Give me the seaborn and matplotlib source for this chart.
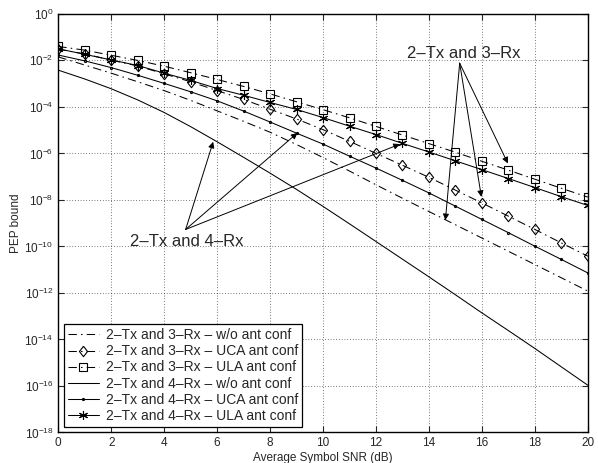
import matplotlib
matplotlib.use("Agg")
import matplotlib.pyplot as plt
import seaborn as sns

# average symbol SNR in dB
snr_db = list(range(0, 21))

# log10 of the PEP bound
pep_3rx_wo = [-1.85, -2.20, -2.55, -2.92, -3.30, -3.72, -4.17, -4.62, -5.09, -5.62, -6.18,
              -6.76, -7.35, -7.93, -8.50, -9.07, -9.64, -10.21, -10.78, -11.35, -11.92]
pep_3rx_uca = [-1.52, -1.72, -1.99, -2.24, -2.58, -2.92, -3.30, -3.68, -4.10, -4.52, -4.98,
               -5.48, -6.00, -6.51, -7.03, -7.58, -8.13, -8.70, -9.27, -9.85, -10.42]
pep_3rx_ula = [-1.40, -1.56, -1.78, -2.00, -2.25, -2.53, -2.82, -3.12, -3.44, -3.78, -4.12,
               -4.47, -4.84, -5.21, -5.58, -5.95, -6.34, -6.72, -7.11, -7.50, -7.88]
pep_4rx_wo = [-2.42, -2.80, -3.22, -3.70, -4.24, -4.85, -5.50, -6.17, -6.85, -7.55, -8.28,
              -9.03, -9.79, -10.55, -11.31, -12.08, -12.86, -13.62, -14.39, -15.18, -15.97]
pep_4rx_uca = [-1.77, -2.02, -2.31, -2.64, -2.99, -3.35, -3.74, -4.18, -4.65, -5.13, -5.60,
               -6.12, -6.63, -7.16, -7.70, -8.27, -8.84, -9.41, -9.99, -10.56, -11.14]
pep_4rx_ula = [-1.50, -1.74, -1.98, -2.22, -2.55, -2.86, -3.21, -3.50, -3.81, -4.11, -4.46,
               -4.83, -5.19, -5.57, -5.94, -6.32, -6.70, -7.08, -7.47, -7.86, -8.24]

series_labels = ['2–Tx and 3–Rx – w/o ant conf', '2–Tx and 3–Rx – UCA ant conf',
                 '2–Tx and 3–Rx – ULA ant conf', '2–Tx and 4–Rx – w/o ant conf',
                 '2–Tx and 4–Rx – UCA ant conf', '2–Tx and 4–Rx – ULA ant conf']

sns.set_style('ticks')
plt.rcParams['font.family'] = ['Liberation Sans', 'DejaVu Sans']

fig = plt.figure(figsize=(5.98, 4.63), dpi=100)
ax = fig.add_axes([0.0975, 0.066, 0.8855, 0.904])

dashdot = (0, (8, 4, 1.5, 4))
diamond = [(0, 1), (0.78, 0), (0, -1), (-0.78, 0), (0, 1)]
styles = [
    dict(linestyle=dashdot, marker=None),
    dict(linestyle=dashdot, marker=diamond, markersize=7.5),
    dict(linestyle=dashdot, marker='s', markersize=5.5),
    dict(linestyle='-', marker=None),
    dict(linestyle='-', marker='.', markersize=3),
    dict(linestyle='-', marker=(6, 2, 0), markersize=6.5),
]
all_series = [pep_3rx_wo, pep_3rx_uca, pep_3rx_ula, pep_4rx_wo, pep_4rx_uca, pep_4rx_ula]

for vals, label, st in zip(all_series, series_labels, styles):
    pep = [10.0 ** v for v in vals]
    sns.lineplot(x=snr_db, y=pep, ax=ax, color='k', lw=0.75, label=label,
                 markerfacecolor='none', markeredgecolor='k', markeredgewidth=0.8, **st)

ax.set_yscale('log')
ax.set_xlim(0, 20)
ax.set_ylim(1e-18, 1)
ax.set_xticks(range(0, 21, 2))
ax.set_yticks([10.0 ** -k for k in range(0, 19, 2)])
ax.minorticks_off()
ax.grid(True, color='k', linestyle=(0, (1, 3)), linewidth=0.5)
ax.tick_params(direction='in', top=True, right=True, length=4, width=0.8, labelsize=8.5)
for sp in ax.spines.values():
    sp.set_linewidth(1.0)
    sp.set_color('k')

ax.set_xlabel('Average Symbol SNR (dB)', fontsize=8.5, labelpad=2)
ax.set_ylabel('PEP bound', fontsize=8.5, labelpad=2)

arrow = dict(arrowstyle='-|>', color='k', lw=0.7, mutation_scale=9, shrinkA=0, shrinkB=0)

# 3-Rx annotation
ax.text(15.33, 10 ** -1.70, '2–Tx and 3–Rx', fontsize=12, ha='center', va='center')
for ex, ey in [(14.62, -8.87), (15.98, -7.87), (16.98, -6.43)]:
    ax.annotate('', xy=(ex, 10 ** ey), xytext=(15.16, 10 ** -2.12), arrowprops=arrow)

# 4-Rx annotation
ax.text(4.87, 10 ** -9.78, '2–Tx and 4–Rx', fontsize=12, ha='center', va='center')
for ex, ey in [(5.85, -5.50), (9.03, -5.12), (12.9, -5.60)]:
    ax.annotate('', xy=(ex, 10 ** ey), xytext=(4.81, 10 ** -9.27), arrowprops=arrow)

leg = ax.legend(loc='lower left', fontsize=10, frameon=True, fancybox=False,
                edgecolor='k', framealpha=1, borderaxespad=0.4, labelspacing=0.15,
                handlelength=2.2, handletextpad=0.5, borderpad=0.3)
leg.get_frame().set_linewidth(0.9)

fig.savefig('out.png', dpi=100)
plt.close('all')
